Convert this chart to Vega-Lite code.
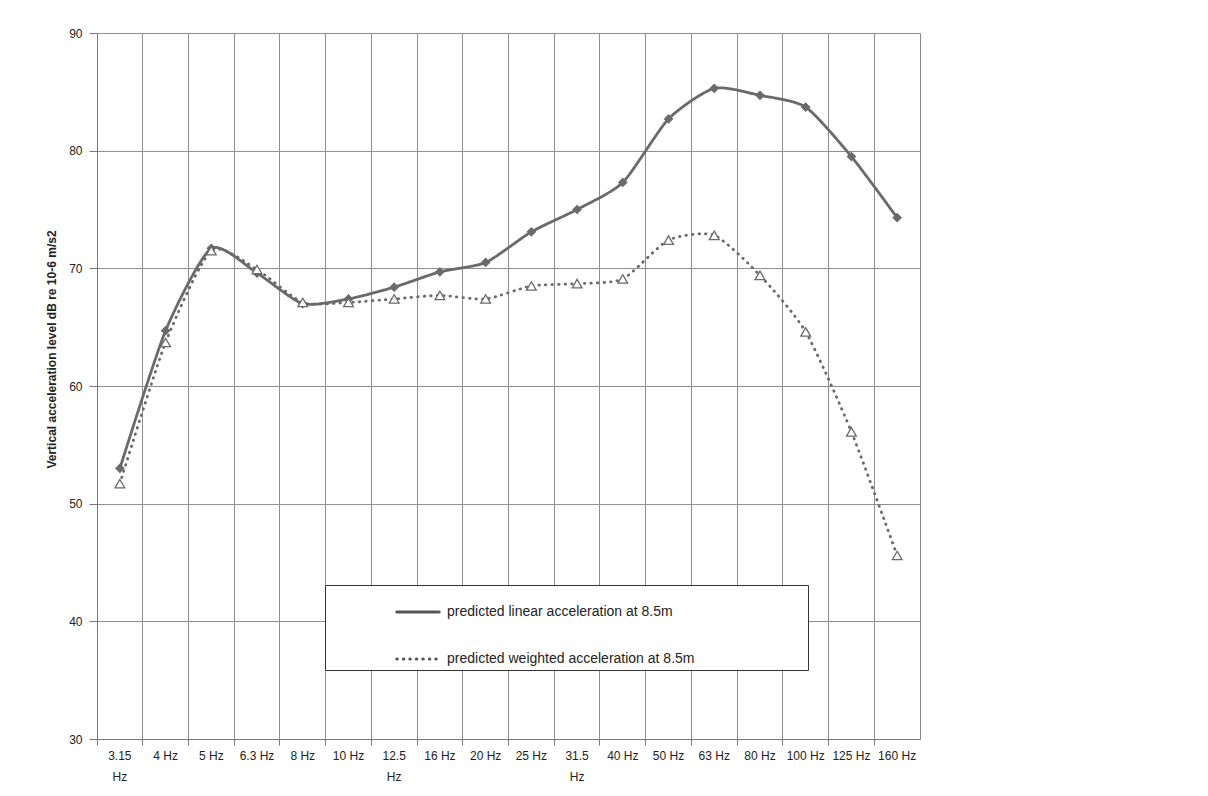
{
  "$schema": "https://vega.github.io/schema/vega-lite/v6.json",
  "autosize": "none",
  "width": 823,
  "height": 706,
  "padding": {"left": 97, "top": 33, "right": 288, "bottom": 57},
  "background": "white",
  "config": {
    "font": "Liberation Sans",
    "view": {"stroke": "#8a8a8a", "strokeWidth": 1},
    "axis": {"labelFont": "Liberation Sans", "titleFont": "Liberation Sans", "gridColor": "#8f8f8f", "gridOpacity": 1, "gridWidth": 1, "domainColor": "#7a7a7a", "tickColor": "#7a7a7a", "labelColor": "#222222", "labelFontSize": 12}
  },
  "data": {"values": [
    {"freq": "3.15 Hz", "series": "predicted linear acceleration at 8.5m", "value": 53.0},
    {"freq": "4 Hz", "series": "predicted linear acceleration at 8.5m", "value": 64.7},
    {"freq": "5 Hz", "series": "predicted linear acceleration at 8.5m", "value": 71.7},
    {"freq": "6.3 Hz", "series": "predicted linear acceleration at 8.5m", "value": 69.6},
    {"freq": "8 Hz", "series": "predicted linear acceleration at 8.5m", "value": 67.0},
    {"freq": "10 Hz", "series": "predicted linear acceleration at 8.5m", "value": 67.4},
    {"freq": "12.5 Hz", "series": "predicted linear acceleration at 8.5m", "value": 68.4},
    {"freq": "16 Hz", "series": "predicted linear acceleration at 8.5m", "value": 69.7},
    {"freq": "20 Hz", "series": "predicted linear acceleration at 8.5m", "value": 70.5},
    {"freq": "25 Hz", "series": "predicted linear acceleration at 8.5m", "value": 73.1},
    {"freq": "31.5 Hz", "series": "predicted linear acceleration at 8.5m", "value": 75.0},
    {"freq": "40 Hz", "series": "predicted linear acceleration at 8.5m", "value": 77.3},
    {"freq": "50 Hz", "series": "predicted linear acceleration at 8.5m", "value": 82.7},
    {"freq": "63 Hz", "series": "predicted linear acceleration at 8.5m", "value": 85.3},
    {"freq": "80 Hz", "series": "predicted linear acceleration at 8.5m", "value": 84.7},
    {"freq": "100 Hz", "series": "predicted linear acceleration at 8.5m", "value": 83.7},
    {"freq": "125 Hz", "series": "predicted linear acceleration at 8.5m", "value": 79.5},
    {"freq": "160 Hz", "series": "predicted linear acceleration at 8.5m", "value": 74.3},
    {"freq": "3.15 Hz", "series": "predicted weighted acceleration at 8.5m", "value": 51.7},
    {"freq": "4 Hz", "series": "predicted weighted acceleration at 8.5m", "value": 63.7},
    {"freq": "5 Hz", "series": "predicted weighted acceleration at 8.5m", "value": 71.5},
    {"freq": "6.3 Hz", "series": "predicted weighted acceleration at 8.5m", "value": 69.9},
    {"freq": "8 Hz", "series": "predicted weighted acceleration at 8.5m", "value": 67.1},
    {"freq": "10 Hz", "series": "predicted weighted acceleration at 8.5m", "value": 67.1},
    {"freq": "12.5 Hz", "series": "predicted weighted acceleration at 8.5m", "value": 67.4},
    {"freq": "16 Hz", "series": "predicted weighted acceleration at 8.5m", "value": 67.7},
    {"freq": "20 Hz", "series": "predicted weighted acceleration at 8.5m", "value": 67.4},
    {"freq": "25 Hz", "series": "predicted weighted acceleration at 8.5m", "value": 68.5},
    {"freq": "31.5 Hz", "series": "predicted weighted acceleration at 8.5m", "value": 68.7},
    {"freq": "40 Hz", "series": "predicted weighted acceleration at 8.5m", "value": 69.1},
    {"freq": "50 Hz", "series": "predicted weighted acceleration at 8.5m", "value": 72.4},
    {"freq": "63 Hz", "series": "predicted weighted acceleration at 8.5m", "value": 72.8},
    {"freq": "80 Hz", "series": "predicted weighted acceleration at 8.5m", "value": 69.4},
    {"freq": "100 Hz", "series": "predicted weighted acceleration at 8.5m", "value": 64.6},
    {"freq": "125 Hz", "series": "predicted weighted acceleration at 8.5m", "value": 56.1},
    {"freq": "160 Hz", "series": "predicted weighted acceleration at 8.5m", "value": 45.6}
  ]},
  "encoding": {
    "x": {
      "field": "freq", "type": "nominal",
      "sort": ["3.15 Hz","4 Hz","5 Hz","6.3 Hz","8 Hz","10 Hz","12.5 Hz","16 Hz","20 Hz","25 Hz","31.5 Hz","40 Hz","50 Hz","63 Hz","80 Hz","100 Hz","125 Hz","160 Hz"],
      "scale": {"type": "band", "paddingInner": 0, "paddingOuter": 0},
      "axis": {"title": null, "labelAngle": 0, "bandPosition": 0, "grid": true, "tickSize": 6, "labelPadding": 5, "labelOverlap": false, "labelLimit": 0, "labelLineHeight": 21, "labelBaseline": "top",
        "labelExpr": "(datum.label == '3.15 Hz' || datum.label == '12.5 Hz' || datum.label == '31.5 Hz') ? split(datum.label, ' ') : datum.label"}
    },
    "y": {
      "field": "value", "type": "quantitative",
      "scale": {"domain": [30, 90], "nice": false, "zero": false},
      "axis": {"title": "Vertical acceleration level dB re 10-6 m/s2", "values": [30,40,50,60,70,80,90], "grid": true, "tickSize": 8, "labelPadding": 7, "titleFontSize": 12, "titleFontWeight": "bold", "titleColor": "#222222", "titlePadding": 10, "titleY": 316}
    }
  },
  "layer": [
    {
      "mark": {"type": "line", "color": "#6a6a6a", "strokeWidth": 2.8, "strokeCap": "round", "interpolate": "cardinal", "tension": 0.35},
      "encoding": {
        "strokeDash": {
          "field": "series", "type": "nominal",
          "scale": {"domain": ["predicted linear acceleration at 8.5m", "predicted weighted acceleration at 8.5m"], "range": [[1, 0], [0.5, 6]]},
          "legend": {"title": " ", "titleOrient": "right", "titlePadding": 110, "orient": "none", "legendX": 228, "legendY": 552, "fillColor": "white", "strokeColor": "#333333", "padding": 4, "rowPadding": 17, "symbolType": "stroke", "symbolSize": 1800, "symbolStrokeWidth": 3, "symbolStrokeColor": "#555555", "symbolOffset": 66, "labelOffset": 6, "labelFontSize": 14, "labelFont": "Liberation Sans", "labelColor": "#222222", "labelLimit": 0,
            "encode": {"symbols": {"update": {"strokeCap": {"value": "round"}}}}}
        }
      }
    },
    {
      "transform": [{"filter": "datum.series == 'predicted linear acceleration at 8.5m'"}],
      "mark": {"type": "point", "shape": "diamond", "filled": true, "color": "#6a6a6a", "size": 95, "opacity": 1}
    },
    {
      "transform": [{"filter": "datum.series == 'predicted weighted acceleration at 8.5m'"}],
      "mark": {"type": "point", "shape": "triangle-up", "filled": false, "fill": "white", "stroke": "#6a6a6a", "strokeWidth": 1.3, "size": 95, "opacity": 1, "fillOpacity": 1}
    }
  ]
}
